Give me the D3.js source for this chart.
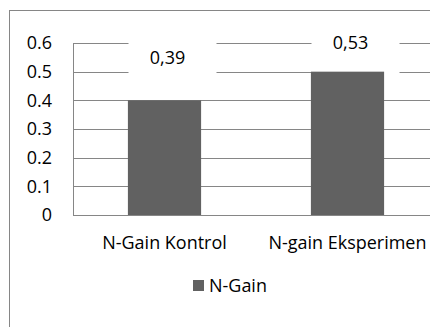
<!DOCTYPE html>
<html><head><meta charset="utf-8">
<script src="https://cdn.jsdelivr.net/npm/d3@7"></script>
<style>body{margin:0;background:#fff}svg{display:block}text{font-family:"Open Sans",sans-serif;fill:#000}</style>
</head><body><svg id="c" width="430" height="327"></svg>
<script>
const categories = ["N-Gain Kontrol", "N-gain Eksperimen"];
const values = [0.40, 0.50];
const labels = ["0,39", "0,53"];
const yTicks = [0, 0.1, 0.2, 0.3, 0.4, 0.5, 0.6];
const seriesName = "N-Gain";

const svg = d3.select("#c");
// fit font size so that the longest category label is ~160px wide
const probe = svg.append("text").attr("font-size", 20).text(categories[1]);
const w20 = probe.node().getComputedTextLength();
probe.remove();
const fs = 20 * 158 / w20;

svg.append("rect").attr("x", 9.5).attr("y", 10.5).attr("width", 440).attr("height", 340)
  .attr("fill", "#fff").attr("stroke", "#868686");

const x = d3.scaleBand().domain(categories).range([73, 439]).paddingInner(0.6).paddingOuter(0.3);
const y = d3.scaleLinear().domain([0, 0.6]).range([215, 43]);

const g = svg.append("g");
g.selectAll("line.grid").data(yTicks).join("line")
  .attr("x1", 73).attr("x2", 439)
  .attr("y1", d => Math.round(y(d)) + 0.5).attr("y2", d => Math.round(y(d)) + 0.5)
  .attr("stroke", "#868686");
g.append("line").attr("x1", 73.5).attr("x2", 73.5).attr("y1", y(0.6)).attr("y2", y(0)+0.5).attr("stroke", "#868686");

g.selectAll("text.yt").data(yTicks).join("text")
  .attr("x", 52).attr("y", d => y(d)).attr("dy", "0.35em").attr("text-anchor", "end")
  .attr("font-size", fs).text(d => d === 0 ? "0" : d3.format(".1f")(d));

const labelY = [y(0.55), y(0.6)];
g.selectAll("rect.lb").data(categories).join("rect")
  .attr("x", d => x(d) + x.bandwidth()/2 - 36).attr("width", 88)
  .attr("y", (d, i) => labelY[i] - 29)
  .attr("height", (d, i) => y(0.5) + 2 - (labelY[i] - 29))
  .attr("fill", "#fff");

g.selectAll("rect.bar").data(values).join("rect")
  .attr("x", (d, i) => x(categories[i])).attr("width", x.bandwidth())
  .attr("y", d => y(d)).attr("height", d => y(0) - y(d))
  .attr("fill", "#616161");

g.selectAll("text.dl").data(labels).join("text")
  .attr("x", (d, i) => x(categories[i]) + x.bandwidth()/2 + 3)
  .attr("y", (d, i) => labelY[i]).attr("dy", "0.35em").attr("text-anchor", "middle")
  .attr("font-size", fs).text(d => d);

g.selectAll("text.cat").data(categories).join("text")
  .attr("x", d => x(d) + x.bandwidth()/2).attr("y", 243).attr("dy", "0.35em")
  .attr("text-anchor", "middle").attr("font-size", fs).text(d => d);

svg.append("rect").attr("x", 193).attr("y", 280).attr("width", 11).attr("height", 11).attr("fill", "#616161");
svg.append("text").attr("x", 209).attr("y", 286).attr("dy", "0.35em").attr("font-size", fs).text(seriesName);
</script></body></html>
